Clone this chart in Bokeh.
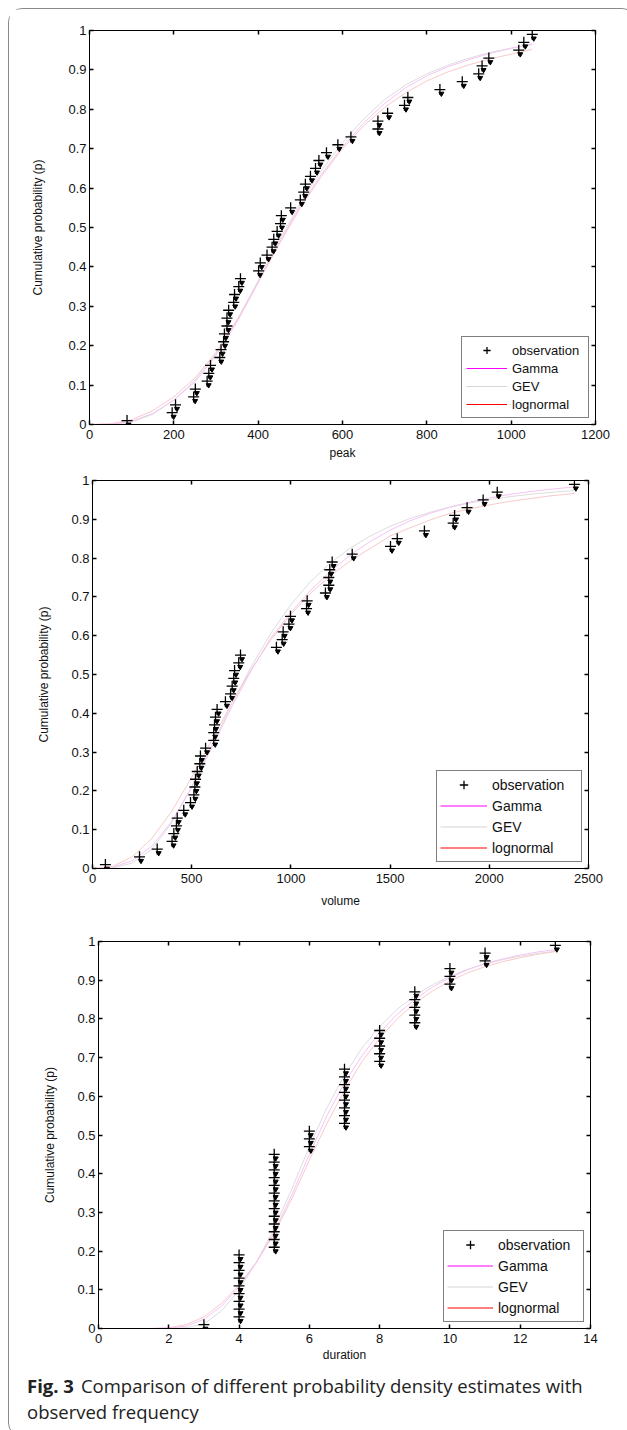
from bokeh.plotting import figure
from bokeh.models import (LinearAxis, FixedTicker, CustomJSTickFormatter, Legend,
                          LegendItem, Range1d, Div, Spacer)
from bokeh.layouts import column, row
from bokeh.embed import file_html
from bokeh.resources import INLINE

# ---------------- data ----------------
cum_prob = [0.01, 0.03, 0.05, 0.07, 0.09, 0.11, 0.13, 0.15, 0.17, 0.19,
            0.21, 0.23, 0.25, 0.27, 0.29, 0.31, 0.33, 0.35, 0.37, 0.39,
            0.41, 0.43, 0.45, 0.47, 0.49, 0.51, 0.53, 0.55, 0.57, 0.59,
            0.61, 0.63, 0.65, 0.67, 0.69, 0.71, 0.73, 0.75, 0.77, 0.79,
            0.81, 0.83, 0.85, 0.87, 0.89, 0.91, 0.93, 0.95, 0.97, 0.99]

peak_obs = [89, 196, 204, 247, 251, 279, 283, 287, 309, 312,
            318, 320, 326, 326, 330, 342, 344, 354, 358, 401,
            405, 421, 433, 437, 445, 453, 455, 477, 500, 508,
            512, 524, 536, 544, 562, 589, 620, 684, 684, 707,
            747, 755, 831, 884, 923, 931, 947, 1018, 1030, 1050]

volume_obs = [65, 237, 326, 401, 410, 423, 427, 460, 494, 511,
              516, 519, 528, 541, 544, 570, 611, 611, 615, 620,
              628, 670, 696, 704, 712, 716, 737, 746, 927, 956,
              961, 990, 998, 1079, 1082, 1174, 1191, 1191, 1196, 1208,
              1309, 1502, 1536, 1673, 1818, 1825, 1888, 1969, 2040, 2429]

duration_obs = [3, 4, 4, 4, 4, 4, 4, 4, 4, 4,
                5, 5, 5, 5, 5, 5, 5, 5, 5, 5,
                5, 5, 5, 6, 6, 6, 7, 7, 7, 7,
                7, 7, 7, 7, 8, 8, 8, 8, 8, 9,
                9, 9, 9, 9, 10, 10, 10, 11, 11, 13]

peak_grid = [0, 50, 100, 150, 200, 250, 300, 350, 400, 450, 500,
             550, 600, 650, 700, 750, 800, 850, 900, 950, 1000, 1050]
peak_gamma = [0, 0.001, 0.008, 0.028, 0.062, 0.108, 0.175, 0.26, 0.36, 0.462, 0.555,
              0.635, 0.705, 0.765, 0.815, 0.855, 0.885, 0.908, 0.926, 0.942, 0.955, 0.966]
peak_gev = [0, 0.0, 0.006, 0.026, 0.062, 0.112, 0.18, 0.265, 0.365, 0.468, 0.562,
            0.645, 0.715, 0.775, 0.825, 0.862, 0.89, 0.912, 0.93, 0.944, 0.955, 0.964]
peak_lognormal = [0, 0.002, 0.012, 0.035, 0.07, 0.118, 0.183, 0.265, 0.36, 0.458, 0.55,
                  0.63, 0.7, 0.758, 0.805, 0.842, 0.872, 0.895, 0.913, 0.928, 0.94, 0.952]

volume_grid = [0, 100, 200, 300, 400, 500, 600, 700, 800, 900, 1000, 1100, 1200,
               1300, 1400, 1500, 1600, 1700, 1800, 1900, 2000, 2100, 2200, 2300, 2400, 2430]
volume_gamma = [0, 0.003, 0.02, 0.058, 0.122, 0.21, 0.31, 0.415, 0.51, 0.595, 0.66, 0.717, 0.766,
                0.808, 0.843, 0.872, 0.896, 0.915, 0.931, 0.944, 0.955, 0.964, 0.971, 0.977, 0.982, 0.983]
volume_gev = [0, 0.001, 0.014, 0.05, 0.118, 0.21, 0.315, 0.422, 0.52, 0.607, 0.68, 0.74, 0.788,
              0.826, 0.857, 0.882, 0.902, 0.918, 0.931, 0.942, 0.951, 0.958, 0.964, 0.969, 0.973, 0.974]
volume_lognormal = [0, 0.005, 0.03, 0.078, 0.148, 0.235, 0.33, 0.425, 0.513, 0.59, 0.655, 0.71, 0.755,
                    0.793, 0.825, 0.857, 0.878, 0.898, 0.915, 0.927, 0.937, 0.946, 0.953, 0.96, 0.965, 0.967]

duration_grid = [0, 0.5, 1, 1.5, 2, 2.5, 3, 3.5, 4, 4.5, 5, 5.5, 6, 6.5, 7,
                 7.5, 8, 8.5, 9, 9.5, 10, 10.5, 11, 11.5, 12, 12.5, 13]
duration_gamma = [0, 0, 0, 0, 0.001, 0.006, 0.024, 0.058, 0.108, 0.172, 0.25, 0.345, 0.45, 0.55, 0.635,
                  0.705, 0.765, 0.812, 0.85, 0.882, 0.907, 0.927, 0.943, 0.955, 0.965, 0.973, 0.979]
duration_gev = [0, 0, 0, 0, 0.0, 0.002, 0.012, 0.045, 0.1, 0.172, 0.26, 0.36, 0.47, 0.57, 0.655,
                0.725, 0.78, 0.825, 0.86, 0.888, 0.91, 0.928, 0.942, 0.953, 0.962, 0.969, 0.975]
duration_lognormal = [0, 0, 0, 0, 0.002, 0.01, 0.03, 0.065, 0.112, 0.172, 0.245, 0.335, 0.435, 0.53, 0.615,
                      0.69, 0.75, 0.8, 0.84, 0.872, 0.898, 0.919, 0.935, 0.948, 0.958, 0.967, 0.974]

peak_ticks = [0, 200, 400, 600, 800, 1000, 1200]
volume_ticks = [0, 500, 1000, 1500, 2000, 2500]
duration_ticks = [0, 2, 4, 6, 8, 10, 12, 14]
prob_ticks = [0, 0.1, 0.2, 0.3, 0.4, 0.5, 0.6, 0.7, 0.8, 0.9, 1]

series_labels = ["observation", "Gamma", "GEV", "lognormal"]
y_label = "Cumulative probability (p)"
caption_head = "Fig. 3"
caption_line1 = "Comparison of different probability density estimates with"
caption_line2 = "observed frequency"

FONT = "Liberation Sans"
PALE = {"Gamma": "#f5c4f5", "GEV": "#dddddd", "lognormal": "#f8caca"}
FULL = {"Gamma": "#ff00ff", "GEV": "#d6d6d6", "lognormal": "#ff0000"}
NAN = float("nan")


def style_axis(ax, ticks, show_labels=True):
    ax.ticker = FixedTicker(ticks=ticks, minor_ticks=[])
    ax.major_tick_in = 4
    ax.major_tick_out = 0
    ax.major_tick_line_width = 1.5
    ax.major_tick_line_color = "black"
    ax.minor_tick_line_color = None
    ax.axis_line_color = "black"
    ax.axis_line_width = 1
    ax.major_label_text_font = FONT
    ax.major_label_text_color = "#111111"
    ax.axis_label_text_font = FONT
    ax.axis_label_text_font_style = "normal"
    ax.axis_label_text_color = "#111111"
    if not show_labels:
        ax.formatter = CustomJSTickFormatter(code="return '';")
        ax.major_label_text_font_size = "0px"
        ax.major_label_standoff = 0


def panel(obs, grid, gamma, gev, logn, x_end, x_ticks, x_label, fw, fh,
          bl, br, bt, bb, tick_fs, lab_fs, xlab_standoff, ylab_standoff, leg):
    p = figure(frame_width=fw, frame_height=fh, x_range=Range1d(0, x_end),
               y_range=Range1d(0, 1), output_backend="svg", toolbar_location=None,
               min_border_left=bl, min_border_right=br, min_border_top=bt,
               min_border_bottom=bb, outline_line_color="black",
               background_fill_color="white", border_fill_color="white")
    p.xgrid.visible = False
    p.ygrid.visible = False

    xa = p.xaxis[0]
    style_axis(xa, x_ticks)
    xa.axis_label = x_label
    xa.major_label_text_font_size = tick_fs
    xa.axis_label_text_font_size = lab_fs
    xa.major_label_standoff = 5
    xa.axis_label_standoff = xlab_standoff

    ya = p.yaxis[0]
    style_axis(ya, prob_ticks)
    ya.formatter = CustomJSTickFormatter(
        code="return (tick < 1e-9 || tick > 0.999999) ? tick.toFixed(0) : tick.toFixed(1);")
    ya.axis_label = y_label
    ya.major_label_text_font_size = tick_fs
    ya.axis_label_text_font_size = lab_fs
    ya.major_label_standoff = 3
    ya.axis_label_standoff = ylab_standoff

    top = LinearAxis()
    style_axis(top, x_ticks, show_labels=False)
    p.add_layout(top, "above")
    right = LinearAxis()
    style_axis(right, prob_ticks, show_labels=False)
    p.add_layout(right, "right")

    # fitted curves (faint in the plot)
    p.line(grid, gev, line_color=PALE["GEV"], line_width=1)
    p.line(grid, logn, line_color=PALE["lognormal"], line_width=1)
    p.line(grid, gamma, line_color=PALE["Gamma"], line_width=1)

    # observations: '+' with a small dark blob below-right
    dx = 1.5 * x_end / fw
    dy = 4.0 / fh
    p.scatter([v + dx for v in obs], [v - dy for v in cum_prob], marker="inverted_triangle",
              size=5, fill_color="black", line_color="black")
    cross = p.scatter(obs, cum_prob, marker="cross", size=11, line_color="black",
                      line_width=1.3)

    # legend swatches in full colour (no visible data)
    lg = p.line([NAN, NAN], [NAN, NAN], line_color=FULL["Gamma"], line_width=1.2)
    lv = p.line([NAN, NAN], [NAN, NAN], line_color=FULL["GEV"], line_width=1.2)
    ll = p.line([NAN, NAN], [NAN, NAN], line_color=FULL["lognormal"], line_width=1.2)
    legend = Legend(items=[LegendItem(label=series_labels[0], renderers=[cross]),
                           LegendItem(label=series_labels[1], renderers=[lg]),
                           LegendItem(label=series_labels[2], renderers=[lv]),
                           LegendItem(label=series_labels[3], renderers=[ll])],
                    location="bottom_right", margin=leg["margin"], padding=leg["padding"],
                    spacing=0, glyph_width=leg["gw"], glyph_height=leg["gh"],
                    label_height=leg["gh"], label_width=leg["lw"], label_standoff=5,
                    label_text_font=FONT, label_text_font_size=leg["fs"],
                    label_text_color="#111111",
                    border_line_color="black", border_line_width=1,
                    background_fill_color="white", background_fill_alpha=1)
    p.add_layout(legend)
    return p


p1 = panel(peak_obs, peak_grid, peak_gamma, peak_gev, peak_lognormal, 1200, peak_ticks,
           "peak", 506, 394, 80, 30, 21, 40, "13px", "12px", 4, 20,
           dict(margin=6, padding=4, gw=41, gh=18, lw=72, fs="13px"))
p2 = panel(volume_obs, volume_grid, volume_gamma, volume_gev, volume_lognormal, 2500,
           volume_ticks, "volume", 496, 388, 80, 37, 16, 44, "13px", "12px", 8, 17,
           dict(margin=6, padding=3, gw=47, gh=21, lw=86, fs="14px"))
p3 = panel(duration_obs, duration_grid, duration_gamma, duration_gev, duration_lognormal, 14,
           duration_ticks, "duration", 492, 387, 80, 35, 29, 40, "13px", "12px", 2, 17,
           dict(margin=6, padding=3, gw=46, gh=21, lw=82, fs="14px"))

r1 = row(p1)
r2 = row(Spacer(width=3, height=10), p2)
r3 = row(Spacer(width=9, height=10), p3)

caption = Div(
    text=('<div style="padding-left:13px;padding-top:0px;font-family:\'Open Sans\';'
          'font-size:18.5px;line-height:26px;color:#222;white-space:nowrap;">'
          '<div><span style="font-weight:bold;">' + caption_head + '</span>'
          '<span style="padding-left:7px;">' + caption_line1 + '</span></div>'
          '<div><span>' + caption_line2 + '</span></div></div>'),
    width=616, height=58)

layout = column(r1, r2, r3, caption, spacing=0, margin=(8, 0, 0, 8),
                styles={"border": "1px solid #8a8a8a", "border-radius": "14px",
                        "background-color": "white"})

open("out.html", "w").write(file_html(layout, INLINE))
